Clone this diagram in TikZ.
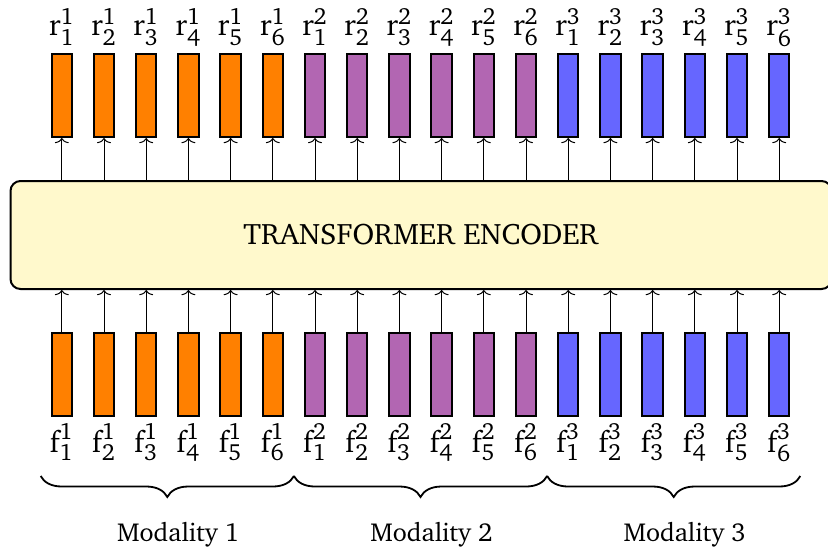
\documentclass[tikz,border=0pt]{standalone}
\usepackage[T1]{fontenc}
\renewcommand{\rmdefault}{bch}
\usepackage{amsmath}
\renewcommand{\defaultscriptratio}{.78}
\usetikzlibrary{arrows.meta,decorations.pathreplacing}
\definecolor{modA}{rgb}{1,0.5,0}
\definecolor{modB}{rgb}{0.7,0.4,0.7}
\definecolor{modC}{rgb}{0.4,0.4,1}
\definecolor{encfill}{rgb}{1,0.975,0.8}
\begin{document}
\begin{tikzpicture}[x=0.5pt,y=-0.5pt,
  bar/.style={draw=black, line width=1pt, minimum width=10.25pt, minimum height=41.5pt, inner sep=0pt},
  lbl/.style={font=\fontsize{15}{17}\selectfont, inner sep=0pt, anchor=base},
  conn/.style={line width=0.5pt, -{To[length=2.6pt,width=7pt]}},
  encbox/.style={draw=black, line width=1pt, fill=encfill, rounded corners=5pt, minimum width=410.5pt, minimum height=54pt, inner sep=0pt, font=\fontsize{14.8}{17}\selectfont},
  brc/.style={decorate, decoration={brace, mirror, amplitude=10.5pt}, line width=0.9pt},
  modlbl/.style={font=\fontsize{13}{15}\selectfont, inner sep=0pt, anchor=base}]
\useasboundingbox (0,0) rectangle (828,552);
\node[encbox] (enc) at (421,235) {TRANSFORMER ENCODER};
\foreach \m/\col in {1/modA,2/modB,3/modC}{
  \foreach \i in {1,...,6}{
    \pgfmathsetmacro{\xx}{61.8+42.2*((\m-1)*6+\i-1)}
    \node[bar, fill=\col] (r-\m-\i) at (\xx,95.5) {};
    \node[bar, fill=\col] (f-\m-\i) at (\xx,374.8) {};
    \node[lbl] (rl-\m-\i) at (\xx,35) {$\text{r}^{\text{\m}}_{\text{\i}}$};
    \node[lbl] (fl-\m-\i) at (\xx,452.5) {$\text{f}^{\text{\m}}_{\text{\i}}$};
    \draw[conn] (enc.north -| r-\m-\i) -- (r-\m-\i.south);
    \draw[conn] (f-\m-\i.north) -- (f-\m-\i.north |- enc.south);
  }
  \pgfmathsetmacro{\xa}{61.8+42.2*((\m-1)*6)-21.1}
  \pgfmathsetmacro{\xb}{61.8+42.2*((\m-1)*6+5)+21.1}
  \pgfmathsetmacro{\xc}{(\xa+\xb)/2+11}
  \draw[brc] (\xa,476) -- (\xb,476);
  \node[modlbl] (mod-\m) at (\xc,541.5) {Modality \m};
}
\end{tikzpicture}
\end{document}
